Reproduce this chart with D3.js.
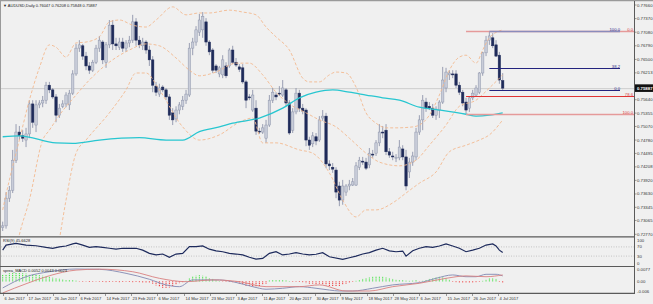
<!DOCTYPE html>
<html>
<head>
<meta charset="utf-8">
<script src="https://cdn.jsdelivr.net/npm/d3@7"></script>
<style>
body { margin: 0; background: #f0f0f0; }
svg { display: block; }
text { font-family: "Liberation Sans", Arial, sans-serif; }
</style>
</head>
<body>
<svg id="chart" width="653" height="304"></svg>
<script>
// AUDUSD daily bars: [open, high, low, close]
var candles = [
    [0.7291,0.7304,0.7284,0.7295],[0.7295,0.7367,0.7289,0.7354],[0.7354,0.7380,0.7346,0.7371],[0.7371,0.7457,0.7365,0.7435],[0.7435,0.7512,0.7429,0.7495],
    [0.7495,0.7508,0.7478,0.7487],[0.7487,0.7499,0.7474,0.7482],[0.7478,0.7504,0.7463,0.7491],[0.7491,0.7563,0.7482,0.7555],[0.7555,0.7563,0.7504,0.7516],
    [0.7510,0.7563,0.7495,0.7553],[0.7553,0.7563,0.7546,0.7557],[0.7557,0.7572,0.7548,0.7563],[0.7563,0.7602,0.7555,0.7595],[0.7595,0.7602,0.7578,0.7585],
    [0.7585,0.7589,0.7566,0.7570],[0.7570,0.7576,0.7516,0.7531],[0.7531,0.7555,0.7525,0.7546],[0.7550,0.7563,0.7546,0.7555],[0.7555,0.7580,0.7548,0.7574],
    [0.7553,0.7585,0.7542,0.7578],[0.7578,0.7627,0.7574,0.7619],[0.7619,0.7683,0.7615,0.7674],[0.7674,0.7691,0.7666,0.7681],[0.7679,0.7683,0.7649,0.7657],
    [0.7657,0.7666,0.7627,0.7636],[0.7636,0.7644,0.7619,0.7627],[0.7627,0.7649,0.7623,0.7644],[0.7644,0.7681,0.7640,0.7674],[0.7674,0.7700,0.7666,0.7691],
    [0.7687,0.7691,0.7640,0.7649],[0.7644,0.7687,0.7632,0.7681],[0.7681,0.7734,0.7674,0.7723],[0.7723,0.7734,0.7670,0.7683],[0.7683,0.7696,0.7670,0.7679],
    [0.7676,0.7696,0.7670,0.7687],[0.7687,0.7696,0.7666,0.7674],[0.7674,0.7691,0.7666,0.7685],[0.7685,0.7700,0.7676,0.7691],[0.7691,0.7745,0.7685,0.7730],
    [0.7730,0.7738,0.7679,0.7691],[0.7691,0.7700,0.7674,0.7681],[0.7679,0.7696,0.7670,0.7687],[0.7687,0.7691,0.7662,0.7670],[0.7670,0.7679,0.7636,0.7649],
    [0.7649,0.7657,0.7580,0.7595],[0.7593,0.7602,0.7572,0.7580],[0.7576,0.7598,0.7570,0.7589],[0.7591,0.7595,0.7580,0.7585],[0.7585,0.7589,0.7563,0.7570],
    [0.7570,0.7576,0.7521,0.7531],[0.7536,0.7546,0.7510,0.7521],[0.7523,0.7550,0.7516,0.7542],[0.7542,0.7559,0.7533,0.7553],[0.7550,0.7572,0.7542,0.7563],
    [0.7563,0.7585,0.7555,0.7576],[0.7574,0.7685,0.7570,0.7674],[0.7674,0.7696,0.7659,0.7687],[0.7687,0.7721,0.7679,0.7713],[0.7708,0.7747,0.7700,0.7734],
    [0.7713,0.7751,0.7696,0.7742],[0.7730,0.7738,0.7679,0.7687],[0.7687,0.7691,0.7659,0.7666],[0.7670,0.7674,0.7621,0.7627],[0.7636,0.7640,0.7621,0.7627],
    [0.7619,0.7636,0.7612,0.7632],[0.7617,0.7659,0.7610,0.7649],[0.7636,0.7644,0.7610,0.7615],[0.7636,0.7674,0.7632,0.7670],[0.7670,0.7679,0.7640,0.7644],
    [0.7644,0.7653,0.7634,0.7638],[0.7634,0.7640,0.7623,0.7629],[0.7632,0.7640,0.7598,0.7602],[0.7602,0.7606,0.7546,0.7563],[0.7570,0.7576,0.7563,0.7568],
    [0.7542,0.7585,0.7538,0.7574],[0.7546,0.7563,0.7489,0.7497],[0.7497,0.7504,0.7491,0.7495],[0.7495,0.7512,0.7491,0.7504],[0.7482,0.7521,0.7472,0.7510],
    [0.7510,0.7574,0.7506,0.7563],[0.7563,0.7589,0.7557,0.7580],[0.7574,0.7580,0.7563,0.7570],[0.7578,0.7593,0.7572,0.7576],[0.7574,0.7606,0.7570,0.7589],
    [0.7585,0.7589,0.7550,0.7557],[0.7557,0.7563,0.7489,0.7493],[0.7499,0.7546,0.7493,0.7538],[0.7538,0.7589,0.7533,0.7578],[0.7578,0.7585,0.7538,0.7546],
    [0.7546,0.7555,0.7533,0.7540],[0.7542,0.7546,0.7465,0.7478],[0.7478,0.7485,0.7457,0.7467],[0.7470,0.7495,0.7463,0.7487],[0.7485,0.7493,0.7467,0.7476],
    [0.7478,0.7529,0.7474,0.7521],[0.7525,0.7542,0.7519,0.7529],[0.7529,0.7536,0.7418,0.7427],[0.7427,0.7435,0.7414,0.7423],[0.7420,0.7429,0.7408,0.7416],
    [0.7414,0.7420,0.7354,0.7367],[0.7380,0.7389,0.7337,0.7350],[0.7350,0.7393,0.7340,0.7380],[0.7367,0.7384,0.7359,0.7380],[0.7380,0.7393,0.7371,0.7384],
    [0.7382,0.7397,0.7380,0.7389],[0.7382,0.7431,0.7380,0.7423],[0.7420,0.7442,0.7414,0.7435],[0.7433,0.7442,0.7425,0.7431],[0.7431,0.7440,0.7414,0.7418],
    [0.7425,0.7461,0.7418,0.7450],[0.7448,0.7457,0.7440,0.7446],[0.7450,0.7478,0.7444,0.7472],[0.7472,0.7512,0.7465,0.7495],[0.7495,0.7508,0.7482,0.7493],
    [0.7499,0.7512,0.7446,0.7453],[0.7453,0.7461,0.7440,0.7446],[0.7444,0.7453,0.7435,0.7442],[0.7440,0.7448,0.7431,0.7441],[0.7440,0.7478,0.7435,0.7463],
    [0.7459,0.7467,0.7435,0.7442],[0.7442,0.7457,0.7371,0.7380],[0.7410,0.7440,0.7397,0.7431],[0.7431,0.7453,0.7423,0.7444],[0.7442,0.7504,0.7435,0.7495],
    [0.7495,0.7531,0.7489,0.7521],[0.7521,0.7574,0.7499,0.7563],[0.7559,0.7568,0.7538,0.7546],[0.7550,0.7559,0.7542,0.7546],[0.7546,0.7555,0.7525,0.7531],
    [0.7531,0.7550,0.7521,0.7544],[0.7542,0.7563,0.7525,0.7559],[0.7559,0.7634,0.7555,0.7606],[0.7589,0.7632,0.7580,0.7623],[0.7617,0.7627,0.7606,0.7621],
    [0.7619,0.7627,0.7610,0.7617],[0.7619,0.7627,0.7589,0.7595],[0.7595,0.7602,0.7574,0.7580],[0.7580,0.7585,0.7550,0.7557],[0.7559,0.7568,0.7534,0.7542],
    [0.7546,0.7570,0.7538,0.7568],[0.7568,0.7585,0.7563,0.7578],[0.7574,0.7595,0.7570,0.7589],[0.7580,0.7623,0.7576,0.7621],[0.7621,0.7666,0.7615,0.7664],
    [0.7664,0.7700,0.7657,0.7691],[0.7691,0.7710,0.7681,0.7700],[0.7696,0.7706,0.7674,0.7679],[0.7681,0.7691,0.7655,0.7657],[0.7659,0.7666,0.7598,0.7606],
    [0.76047,0.76208,0.75848,0.75887]
];

// moving average (cyan), [bar, price]
var maPoints = [[0,0.7485],[5,0.7487],[16,0.7472],[21,0.7471],[29,0.7478],[41,0.7483],[49,0.7478],[54,0.7478],[59,0.7496],[65,0.7506],
    [69,0.7514],[77,0.7525],[84,0.7546],[89,0.7568],[94,0.7580],[99,0.7585],[104,0.7580],[109,0.7574],[114,0.7568],[119,0.7563],
    [125,0.7548],[131,0.7542],[139,0.7533],[142,0.7529],[146,0.7531],[150,0.7536]];

// bollinger bands, [bar, price]
var bbUpper = [[0,0.7329],[2,0.7393],[5,0.7478],[8,0.7563],[11,0.7632],[14,0.7681],[16,0.7676],[19,0.7655],[22,0.7685],[25,0.7687],
    [29,0.7698],[32,0.7730],[35,0.7734],[39,0.7723],[43,0.7719],[46,0.7734],[51,0.7762],[55,0.7745],[59,0.7749],[62,0.7749],
    [68,0.7755],[72,0.7751],[76,0.7745],[79,0.7719],[82,0.7698],[86,0.7670],[90,0.7610],[92,0.7602],[95,0.7602],[98,0.7617],
    [100,0.7623],[103,0.7621],[106,0.7591],[109,0.7536],[112,0.7514],[115,0.7504],[118,0.7504],[123,0.7506],[125,0.7510],[128,0.7531],
    [131,0.7574],[134,0.7627],[137,0.7655],[139,0.7659],[142,0.7642],[144,0.7670],[146,0.7696],[150,0.7713]];
var bbMiddle = [[4,0.7244],[5,0.7276],[8,0.7350],[12,0.7478],[14,0.7499],[17,0.7531],[22,0.7574],[26,0.7606],[32,0.7644],[38,0.7670],
    [43,0.7683],[47,0.7679],[52,0.7653],[56,0.7627],[59,0.7615],[64,0.7623],[70,0.7642],[74,0.7642],[78,0.7617],[82,0.7580],
    [86,0.7555],[91,0.7536],[95,0.7521],[100,0.7506],[104,0.7482],[109,0.7450],[113,0.7431],[119,0.7423],[124,0.7435],[128,0.7467],
    [133,0.7510],[137,0.7550],[142,0.7563],[146,0.7589],[150,0.7617]];
var bbLower = [[17,0.7265],[19,0.7350],[22,0.7450],[25,0.7478],[32,0.7536],[37,0.7585],[40,0.7621],[43,0.7621],[47,0.7585],[54,0.7506],
    [59,0.7478],[65,0.7489],[71,0.7516],[75,0.7525],[78,0.7472],[82,0.7472],[89,0.7457],[93,0.7450],[98,0.7408],[102,0.7350],
    [106,0.7314],[109,0.7329],[112,0.7329],[117,0.7344],[121,0.7365],[125,0.7386],[130,0.7410],[134,0.7453],[139,0.7467],[143,0.7478],
    [146,0.7489],[150,0.7521]];

// RSI(9), [bar, value]
var rsiPoints = [[0,56],[1,78],[4,85],[7,78],[10,75],[13,68],[15,64],[17,70],[19,74],[21,83],[22,86],[24,78],[26,68],[28,71],[30,68],
    [32,64],[34,60],[36,64],[40,64],[42,56],[44,42],[46,35],[48,39],[50,25],[52,39],[54,42],[56,71],[58,71],[60,74],[62,60],
    [64,53],[66,49],[68,42],[70,39],[72,35],[74,25],[76,17],[78,20],[80,42],[82,49],[84,35],[86,39],[88,45],[90,39],[92,35],
    [94,38],[96,45],[98,27],[102,16],[104,23],[106,30],[108,39],[110,45],[112,56],[114,64],[116,53],[118,49],[120,52],[121,30],
    [123,53],[125,64],[127,71],[129,68],[131,74],[133,83],[135,74],[137,64],[139,49],[141,56],[143,64],[145,78],[147,83],[148,74],
    [149,56],[150,45.66]];
var rsiLevels = [70, 30];

// MACD lines, [bar, value]
var macdMain = [[0,-0.0041],[7,0.0029],[14,0.0060],[22,0.0077],[29,0.0075],[37,0.0050],[44,0.0013],[49,-0.0022],[53,-0.0033],[57,0.0009],
    [61,0.0009],[65,0.0009],[69,-0.0002],[75,-0.0033],[79,-0.0049],[84,-0.0043],[89,-0.0033],[94,-0.0043],[98,-0.0054],[101,-0.0060],
    [105,-0.0060],[111,-0.0043],[117,-0.0022],[125,-0.0008],[130,0.0019],[135,0.0040],[139,0.0029],[142,0.0029],[145,0.0044],[148,0.0044],
    [150,0.0034]];
var macdSignal = [[0,-0.0072],[7,-0.0015],[14,0.0035],[22,0.0070],[29,0.0076],[39,0.0060],[47,0.0019],[55,-0.0002],[63,0.0009],[71,-0.0002],
    [79,-0.0033],[89,-0.0033],[95,-0.0022],[103,-0.0060],[110,-0.0060],[117,-0.0033],[125,-0.0012],[133,0.0019],[139,0.0034],[145,0.0029],
    [150,0.0040]];
// histogram, one value per bar
var macdHist = [
    0.0040,0.0045,0.0050,0.0055,0.0055,0.0052,0.0050,0.0048,0.0045,0.0042,
    0.0040,0.0038,0.0035,0.0032,0.0028,0.0024,0.0020,0.0016,0.0013,0.0010,
    0.0008,0.0006,0.0004,-0.0002,-0.0003,-0.0002,-0.0004,-0.0003,-0.0002,-0.0003,
    -0.0004,-0.0005,-0.0004,-0.0003,-0.0004,-0.0005,-0.0004,-0.0003,-0.0004,-0.0005,
    -0.0004,-0.0005,-0.0006,-0.0008,-0.0010,-0.0015,-0.0025,-0.0035,-0.0040,-0.0042,
    -0.0038,-0.0030,-0.0020,-0.0012,-0.0005,0.0003,0.0020,0.0030,0.0035,0.0038,
    0.0035,0.0030,0.0022,0.0015,0.0005,0.0002,-0.0002,-0.0003,-0.0004,-0.0005,
    -0.0008,-0.0015,-0.0022,-0.0028,-0.0032,-0.0035,-0.0035,-0.0030,-0.0022,-0.0015,
    0.0005,0.0008,0.0010,0.0010,0.0008,0.0005,0.0002,-0.0003,-0.0003,-0.0004,
    -0.0005,-0.0012,-0.0015,-0.0015,-0.0018,-0.0015,-0.0018,-0.0025,-0.0030,-0.0032,
    -0.0030,-0.0028,-0.0022,-0.0015,-0.0008,-0.0003,0.0003,0.0010,0.0015,0.0020,
    0.0025,0.0028,0.0030,0.0030,0.0028,0.0025,0.0020,0.0015,0.0012,0.0008,
    0.0006,0.0004,0.0003,0.0004,0.0006,-0.0002,0.0003,0.0008,0.0015,0.0020,
    0.0025,0.0028,0.0025,0.0020,0.0012,-0.0003,-0.0005,-0.0008,-0.0010,-0.0010,
    -0.0008,-0.0006,-0.0005,-0.0003,0.0003,0.0012,0.0018,0.0020,0.0015,-0.0003,
    -0.0008
];

// fibonacci objects
var fibHigh = 0.7710;
var redFibLow = 0.7534, redFibStart = 139, redFibLevels = [0.0, 78.6, 100.0];
var blueFibLow = 0.75848, blueFibStart = 146, blueFibLevels = [0.0, 38.2, 100.0];

var priceTicks = [0.77660, 0.77370, 0.77080, 0.76790, 0.76500, 0.76213, 0.75640, 0.75355, 0.75070,
    0.74780, 0.74495, 0.74208, 0.73920, 0.73630, 0.73345, 0.73065, 0.72770];
var rsiTicks = [100, 70, 30, 0];
var macdTicks = [["0.0077", 0.0077], ["0.00", 0], ["-0.006", -0.006]];
// label positions on the bar axis
var dateTicks = [[0,"6 Jan 2017"],[7.3,"17 Jan 2017"],[15.1,"26 Jan 2017"],[22.9,"6 Feb 2017"],[30.7,"14 Feb 2017"],
    [38.5,"23 Feb 2017"],[46.3,"6 Mar 2017"],[54.4,"14 Mar 2017"],[62.2,"23 Mar 2017"],[70,"3 Apr 2017"],
    [77.8,"11 Apr 2017"],[85.6,"20 Apr 2017"],[93.7,"30 Apr 2017"],[101.1,"9 May 2017"],[109.2,"18 May 2017"],
    [117.1,"28 May 2017"],[124.9,"6 Jun 2017"],[132.9,"15 Jun 2017"],[140.8,"26 Jun 2017"],[148.6,"4 Jul 2017"]];

var svg = d3.select("#chart");
var right = 634.5;

var x = d3.scaleLinear().domain([0, candles.length - 1]).range([2.7, 502.7]);
var y = d3.scaleLinear().domain([0.7277, 0.7766]).range([234.3, 5]);
var yRsi = d3.scaleLinear().domain([0, 100]).range([263, 240]);
var yMacd = d3.scaleLinear().domain([-0.006, 0.0077]).range([291, 269]);

var defs = svg.append("defs");
defs.append("clipPath").attr("id", "clipMain").append("rect").attr("x", 1).attr("y", 2).attr("width", right - 1).attr("height", 234);
defs.append("clipPath").attr("id", "clipRsi").append("rect").attr("x", 1).attr("y", 237.5).attr("width", right - 1).attr("height", 28.5);
defs.append("clipPath").attr("id", "clipMacd").append("rect").attr("x", 1).attr("y", 267.5).attr("width", right - 1).attr("height", 25.5);

svg.append("rect").attr("width", 653).attr("height", 304).attr("fill", "#f0f0f0");

var main = svg.append("g").attr("clip-path", "url(#clipMain)");

// bid line
main.append("line").attr("x1", 1).attr("x2", right).attr("y1", y(0.75887) + 0.5).attr("y2", y(0.75887) + 0.5)
    .attr("stroke", "#c4c4c4").attr("stroke-width", 0.8);

// candles
var bar = main.selectAll(".bar").data(candles).enter().append("g");
bar.append("line")
    .attr("x1", function(d, i) { return x(i); })
    .attr("x2", function(d, i) { return x(i); })
    .attr("y1", function(d) { return y(d[1]); })
    .attr("y2", function(d) { return y(d[2]); })
    .attr("stroke", "#8e95ab").attr("stroke-width", 0.9);
bar.append("rect")
    .attr("x", function(d, i) { return x(i) - 1.2; })
    .attr("width", 2.4)
    .attr("y", function(d) { return y(Math.max(d[0], d[3])); })
    .attr("height", function(d) { return Math.max(0.8, Math.abs(y(d[0]) - y(d[3]))); })
    .attr("fill", function(d) { return d[3] >= d[0] ? "#c9cdd9" : "#1f2b5a"; })
    .attr("stroke", function(d) { return d[3] >= d[0] ? "#8e95ab" : "#1f2b5a"; })
    .attr("stroke-width", 0.5);

// bollinger bands
var priceLine = d3.line().x(function(d) { return x(d[0]); }).y(function(d) { return y(d[1]); }).curve(d3.curveMonotoneX);
[bbUpper, bbMiddle, bbLower].forEach(function(band) {
    main.append("path").attr("d", priceLine(band)).attr("fill", "none")
        .attr("stroke", "#f3b98f").attr("stroke-width", 0.9).attr("stroke-dasharray", "3,2");
});

// moving average
main.append("path").attr("d", priceLine(maPoints)).attr("fill", "none")
    .attr("stroke", "#27c6d0").attr("stroke-width", 1.3);

// fibonacci lines
var fibRange = fibHigh - redFibLow;
redFibLevels.forEach(function(lv) {
    var p = fibHigh - lv / 100 * fibRange;
    var yy = Math.round(y(p)) + 0.5;
    svg.append("line").attr("x1", x(redFibStart)).attr("x2", right).attr("y1", yy).attr("y2", yy)
        .attr("stroke", lv == 78.6 ? "#e03434" : "#e59a9a").attr("stroke-width", lv == 78.6 ? 1.2 : 1.4);
    svg.append("text").attr("x", right - 1.5).attr("y", yy - 1).attr("text-anchor", "end")
        .attr("font-size", 4.2).attr("fill", "#d84040").text(lv.toFixed(1));
});
var blueRange = fibHigh - blueFibLow;
blueFibLevels.forEach(function(lv) {
    var p = blueFibLow + lv / 100 * blueRange;
    var yy = Math.round(y(p)) + 0.5;
    svg.append("line").attr("x1", x(blueFibStart)).attr("x2", 620).attr("y1", yy).attr("y2", yy)
        .attr("stroke", lv == 100 ? "#8b8cbc" : "#23237e").attr("stroke-width", lv == 100 ? 1.4 : 1.1);
    svg.append("text").attr("x", 620).attr("y", yy - 1).attr("text-anchor", "end")
        .attr("font-size", 4.2).attr("fill", "#2b2b88").text(lv.toFixed(1));
});

// RSI panel
var rsiG = svg.append("g").attr("clip-path", "url(#clipRsi)");
rsiLevels.forEach(function(lv) {
    rsiG.append("line").attr("x1", 1).attr("x2", right).attr("y1", yRsi(lv)).attr("y2", yRsi(lv))
        .attr("stroke", "#a8a8a8").attr("stroke-width", 0.6).attr("stroke-dasharray", "1,1.5");
});
var rsiLine = d3.line().x(function(d) { return x(d[0]); }).y(function(d) { return yRsi(d[1]); });
rsiG.append("path").attr("d", rsiLine(rsiPoints)).attr("fill", "none")
    .attr("stroke", "#1d2a5c").attr("stroke-width", 1.2);

// MACD panel
var macdG = svg.append("g").attr("clip-path", "url(#clipMacd)");
macdG.selectAll(".hist").data(macdHist).enter().append("line")
    .attr("x1", function(d, i) { return x(i); })
    .attr("x2", function(d, i) { return x(i); })
    .attr("y1", yMacd(0))
    .attr("y2", function(d) { return yMacd(d); })
    .attr("stroke", function(d) { return d >= 0 ? "#22e022" : "#f01c1c"; })
    .attr("stroke-width", 1).attr("stroke-dasharray", "1,0.8");
var macdLine = d3.line().x(function(d) { return x(d[0]); }).y(function(d) { return yMacd(d[1]); }).curve(d3.curveMonotoneX);
macdG.append("path").attr("d", macdLine(macdMain)).attr("fill", "none").attr("stroke", "#8d93b8").attr("stroke-width", 1);
macdG.append("path").attr("d", macdLine(macdSignal)).attr("fill", "none").attr("stroke", "#d98080").attr("stroke-width", 0.9);

// frame and separators
svg.append("line").attr("x1", 0).attr("x2", 653).attr("y1", 0.5).attr("y2", 0.5).attr("stroke", "#9a9a9a").attr("stroke-width", 1.5);
svg.append("line").attr("x1", 0.5).attr("x2", 0.5).attr("y1", 0).attr("y2", 293).attr("stroke", "#9a9a9a");
[236.8, 266.5, 293.3].forEach(function(yy) {
    svg.append("line").attr("x1", 0).attr("x2", right).attr("y1", yy).attr("y2", yy).attr("stroke", "#5a5a5a").attr("stroke-width", 1.2);
});
svg.append("line").attr("x1", right).attr("x2", right).attr("y1", 1).attr("y2", 294).attr("stroke", "#5a5a5a").attr("stroke-width", 1);

// price axis
var axisG = svg.append("g").attr("font-size", 4.3).attr("fill", "#333");
priceTicks.forEach(function(p) {
    axisG.append("line").attr("x1", right).attr("x2", right + 2).attr("y1", y(p)).attr("y2", y(p)).attr("stroke", "#5a5a5a").attr("stroke-width", 0.6);
    axisG.append("text").attr("x", right + 2.5).attr("y", y(p) + 1.5).text(p.toFixed(5));
});
svg.append("rect").attr("x", right + 0.5).attr("y", y(0.75887) - 3.8).attr("width", 18).attr("height", 7.6).attr("fill", "#111");
svg.append("text").attr("x", right + 2.5).attr("y", y(0.75887) + 1.6).attr("font-size", 4.3).attr("fill", "#fff")
    .attr("font-weight", "bold").text("0.75887");

rsiTicks.forEach(function(v) {
    axisG.append("text").attr("x", right + 2.5).attr("y", yRsi(v) + 1.5).text(v);
});
macdTicks.forEach(function(t) {
    axisG.append("text").attr("x", right + 2.5).attr("y", yMacd(t[1]) + 1.5).text(t[0]);
});

// time axis
var timeG = svg.append("g").attr("font-size", 4.1).attr("fill", "#333");
dateTicks.forEach(function(t) {
    var xx = Math.round(x(t[0])) + 0.5;
    timeG.append("line").attr("x1", xx).attr("x2", xx).attr("y1", 293.5).attr("y2", 296).attr("stroke", "#5a5a5a").attr("stroke-width", 0.6);
    timeG.append("text").attr("x", xx + 1).attr("y", 299.5).text(t[1]);
});

// panel captions
svg.append("text").attr("x", 3).attr("y", 7).attr("font-size", 4).attr("fill", "#222")
    .text("\u25BC AUDUSD,Daily  0.76047 0.76208 0.75848 0.75887");
svg.append("text").attr("x", 3).attr("y", 242).attr("font-size", 4).attr("fill", "#222").text("RSI(9) 45.6628");
svg.append("text").attr("x", 3).attr("y", 272).attr("font-size", 4).attr("fill", "#222").text("sprea_MACD 0.0052 0.0043 0.0023");
</script>
</body>
</html>
